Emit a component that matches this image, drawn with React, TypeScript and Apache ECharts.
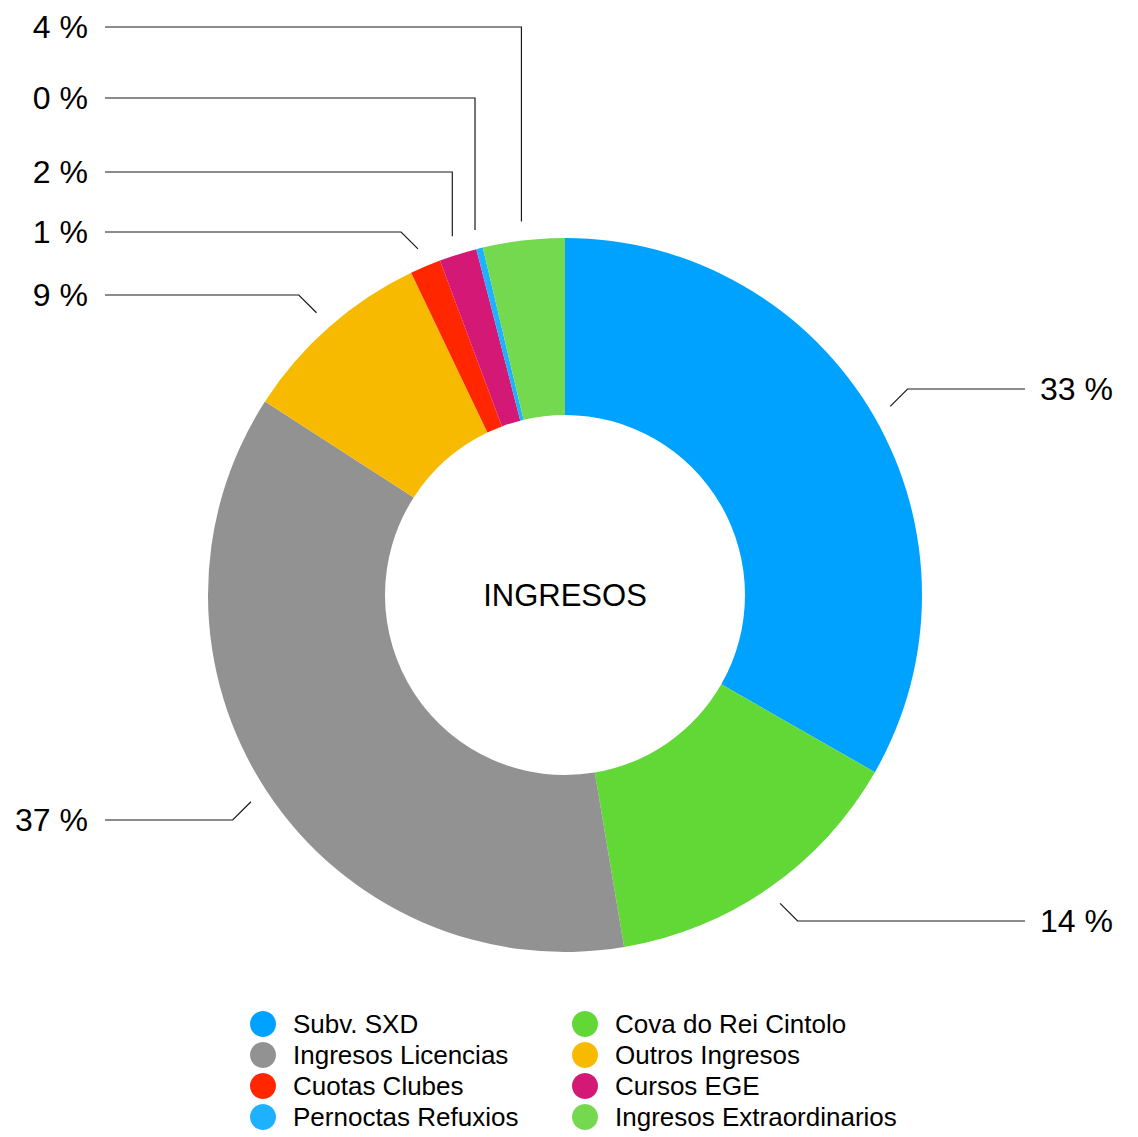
import React, { useEffect, useRef } from 'react';
import * as echarts from 'echarts';

// ---- data ----
const categories = [
  'Subv. SXD',
  'Cova do Rei Cintolo',
  'Ingresos Licencias',
  'Outros Ingresos',
  'Cuotas Clubes',
  'Cursos EGE',
  'Pernoctas Refuxios',
  'Ingresos Extraordinarios',
];
const values = [33.3, 14.1, 36.8, 8.8, 1.4, 1.7, 0.3, 3.7];
const colors = ['#00A2FF', '#61D836', '#929292', '#F8BA00', '#FF2600', '#D41876', '#1EB1FF', '#74D94E'];
const centerTitle = 'INGRESOS';
const legendLeftColumn = [categories[0], categories[2], categories[4], categories[6]];
const legendRightColumn = [categories[1], categories[3], categories[5], categories[7]];

// ---- layout ----
const W = 1138;
const H = 1137;
const CX = 565;
const CY = 595;
const R_IN = 180;
const R_OUT = 357;
const LINE_R = 376;
const LABEL_Y = [389, 921, 820, 295, 232, 172, 98, 27];
const FONT = '"Liberation Sans", Helvetica, Arial, sans-serif';

export default function App() {
  const ref = useRef<HTMLDivElement>(null);
  useEffect(() => {
    document.body.style.margin = '0';
    if (!ref.current) return;
    const chart = echarts.init(ref.current, undefined, { renderer: 'svg' });
    const total = values.reduce((a, b) => a + b, 0);
    const labelLayout = (params: any) => {
      const i = params.dataIndex;
      let before = 0;
      for (let j = 0; j < i; j++) before += values[j];
      const theta = ((before + values[i] / 2) / total) * Math.PI * 2;
      const sx = CX + LINE_R * Math.sin(theta);
      const sy = CY - LINE_R * Math.cos(theta);
      const right = sx > CX;
      const ly = LABEL_Y[i];
      const dy = Math.abs(ly - sy);
      const ex = dy <= 30 ? sx + (right ? 1 : -1) * dy : sx;
      const endX = right ? 1025 : 105;
      return {
        x: right ? 1040 : 88,
        y: ly,
        align: right ? 'left' : 'right',
        verticalAlign: 'middle',
        labelLinePoints: [
          [sx, sy],
          [ex, ly],
          [endX, ly],
        ],
      };
    };
    const legendBase = {
      orient: 'vertical',
      top: 1011,
      height: 124,
      padding: 0,
      itemWidth: 26,
      itemHeight: 26,
      itemGap: 5,
      icon: 'circle',
      selectedMode: false,
      textStyle: {
        fontSize: 26,
        fontFamily: FONT,
        color: '#000',
        padding: [0, 0, 0, 12],
        lineHeight: 26,
      },
    };
    chart.setOption({
      animation: false,
      color: colors,
      legend: [
        { ...legendBase, left: 250, data: legendLeftColumn },
        { ...legendBase, left: 572, data: legendRightColumn },
      ],
      graphic: [
        {
          type: 'text',
          x: CX,
          y: CY,
          style: {
            text: centerTitle,
            fontSize: 31,
            fontFamily: FONT,
            fill: '#000',
            textAlign: 'center',
            textVerticalAlign: 'middle',
          },
        },
      ],
      series: [
        {
          type: 'pie',
          center: [CX, CY],
          radius: [R_IN, R_OUT],
          startAngle: 90,
          clockwise: true,
          avoidLabelOverlap: false,
          minShowLabelAngle: 0,
          data: categories.map((name, i) => ({ name, value: values[i] })),
          itemStyle: { borderWidth: 0 },
          emphasis: { disabled: true },
          label: {
            show: true,
            position: 'outside',
            formatter: (p: any) => `${Math.round(p.percent)} %`,
            fontSize: 32,
            fontFamily: FONT,
            color: '#000',
          },
          labelLine: {
            show: true,
            lineStyle: { color: '#1a1a1a', width: 1.2 },
          },
          labelLayout,
        },
      ],
    });
    return () => chart.dispose();
  }, []);
  return <div ref={ref} style={{ width: W, height: H }} />;
}
